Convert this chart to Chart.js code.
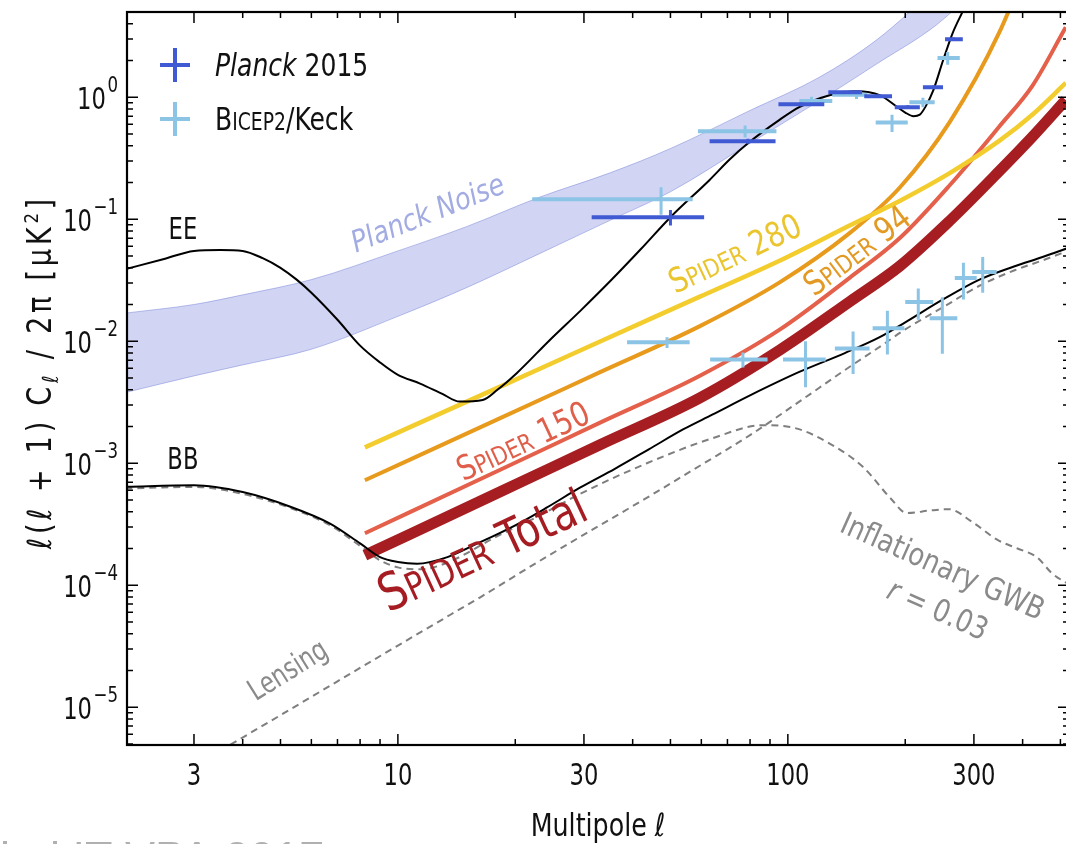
<!DOCTYPE html>
<html>
<head>
<meta charset="utf-8">
<script src="https://cdn.jsdelivr.net/npm/chart.js@4.4.1/dist/chart.umd.min.js"></script>
<style>
    html, body { margin: 0; padding: 0; background: #fff; overflow: hidden; }
    #wrap { width: 1066px; height: 844px; overflow: hidden; }
    canvas { display: block; }
</style>
</head>
<body>
<div id="wrap"><canvas id="cl-chart" width="1070" height="844"></canvas></div>
<script>
const X_MIN = 2.02, X_MAX = 526;
const Y_MIN = 4.9e-6, Y_MAX = 5;

const X_TICKS = [3, 10, 30, 100, 300];
const X_TICK_LABELS = ['3', '10', '30', '100', '300'];
const Y_TICKS = [1, 0.1, 0.01, 1e-3, 1e-4, 1e-5];
const Y_TICK_EXPONENTS = ['0', '\u22121', '\u22122', '\u22123', '\u22124', '\u22125'];

// theory spectra, l(l+1)C_l/2pi in uK^2
const EE_ELL = [2, 2.5, 3, 3.5, 4, 4.5, 5, 5.5, 6, 7, 8, 9, 10, 11.4, 13, 14.4, 16.5, 18, 20.2, 24.5, 29.5, 35, 42, 50, 63, 71, 79, 95, 107, 128, 150, 172, 190, 200, 210, 218, 226, 236, 250, 264, 282, 300];
const EE_VAL = [0.039, 0.047, 0.055, 0.056, 0.055, 0.048, 0.040, 0.032, 0.025, 0.015, 0.0092, 0.0067, 0.0053, 0.0045, 0.0037, 0.0032, 0.0033, 0.0040, 0.0055, 0.0102, 0.018, 0.031, 0.057, 0.104, 0.21, 0.31, 0.42, 0.65, 0.83, 1.04, 1.12, 1.04, 0.84, 0.75, 0.70, 0.72, 0.85, 1.14, 2.0, 3.3, 5.2, 8];

const BB_ELL = [2, 3, 4, 5.3, 6.7, 8, 9, 10, 11.2, 13.4, 16, 20, 24, 29.3, 36, 44, 54, 64, 80, 107, 140, 172, 200, 250, 310, 380, 450, 530];
const BB_VAL = [6.4e-4, 6.6e-4, 5.8e-4, 4.4e-4, 3.2e-4, 2.2e-4, 1.7e-4, 1.55e-4, 1.5e-4, 1.7e-4, 2.2e-4, 3.1e-4, 4.3e-4, 6.3e-4, 9.0e-4, 1.3e-3, 1.9e-3, 2.5e-3, 3.6e-3, 5.6e-3, 8.0e-3, 0.0108, 0.0143, 0.022, 0.032, 0.041, 0.049, 0.059];

const LENS_ELL = [3.5, 5, 7, 10, 13.6, 16.3, 22, 30, 43, 60, 80, 107, 140, 172, 200, 250, 310, 380, 450, 530];
const LENS_VAL = [4.4e-6, 8.6e-6, 1.63e-5, 3.2e-5, 5.7e-5, 8e-5, 1.44e-4, 2.6e-4, 5.1e-4, 9.7e-4, 1.7e-3, 3.2e-3, 5.8e-3, 9.0e-3, 0.0125, 0.019, 0.0285, 0.038, 0.046, 0.056];

const GWB_ELL = [2, 3, 4, 5.3, 6.7, 8, 9, 10, 11.5, 13.5, 17.9, 23, 29.3, 43.5, 64, 86, 105, 128, 156, 183, 202, 232, 259, 297, 345, 388, 435, 476, 530];
const GWB_VAL = [6.2e-4, 6.4e-4, 5.6e-4, 4.3e-4, 3.1e-4, 2.1e-4, 1.6e-4, 1.4e-4, 1.35e-4, 1.55e-4, 2.5e-4, 3.7e-4, 5.6e-4, 1.0e-3, 1.6e-3, 2.05e-3, 1.93e-3, 1.45e-3, 9.3e-4, 5.2e-4, 3.9e-4, 4.1e-4, 4.2e-4, 3.3e-4, 2.35e-4, 2.0e-4, 1.7e-4, 1.25e-4, 1.0e-4];

// Planck noise band
const NOISE_ELL = [2, 3, 4, 6, 10, 15, 23, 35, 50, 80, 120, 170, 240, 320];
const NOISE_HI = [0.017, 0.020, 0.024, 0.032, 0.055, 0.087, 0.151, 0.24, 0.38, 0.78, 1.45, 3.0, 8, 20];
const NOISE_LO = [0.0038, 0.0052, 0.0064, 0.0086, 0.0160, 0.0275, 0.052, 0.098, 0.168, 0.42, 0.93, 1.9, 3.9, 9];

// SPIDER noise curves
const SPIDER_ELL = [8.23, 18.3, 33, 59.5, 95.5, 144, 194, 260, 349, 425, 516];
const SPIDER_280 = [1.35e-3, 4.25e-3, 9.95e-3, 0.0232, 0.0459, 0.0888, 0.142, 0.239, 0.441, 0.726, 1.31];
const SPIDER_94 = [7.26e-4, 2.34e-3, 5.58e-3, 0.0133, 0.0305, 0.0769, 0.183, 0.625, 3.43, 16, 81];
const SPIDER_150 = [2.67e-4, 8.84e-4, 2.15e-3, 5.21e-3, 0.0125, 0.0331, 0.0705, 0.190, 0.579, 1.26, 3.75];
const SPIDER_TOTAL = [1.76e-4, 5.83e-4, 1.42e-3, 3.44e-3, 8.51e-3, 0.0211, 0.0415, 0.097, 0.249, 0.479, 0.95];

// Planck 2015 EE bandpowers
const PLANCK_ELL = [50, 79, 108, 140, 171, 203, 236, 266];
const PLANCK_LO = [31.4, 63, 94.6, 127, 157, 188, 222, 253];
const PLANCK_HI = [61, 93, 124, 155, 185, 218, 250, 281];
const PLANCK_VAL = [0.104, 0.436, 0.876, 1.10, 1.02, 0.83, 1.21, 2.99];
const PLANCK_ERR = [0.015, 0.02, 0.03, 0.03, 0.03, 0.03, 0.04, 0.1];

// BICEP2/Keck EE and BB bandpowers
const BK_EE_ELL = [47.3, 77.7, 115, 150, 185, 222, 257];
const BK_EE_LO = [22.1, 58.8, 107, 130, 168, 205, 242];
const BK_EE_HI = [57, 93.5, 130, 160, 203, 238, 276];
const BK_EE_VAL = [0.146, 0.527, 0.93, 1.05, 0.62, 0.91, 2.1];
const BK_EE_ERR = [0.037, 0.06, 0.08, 0.08, 0.1, 0.08, 0.25];

const BK_BB_ELL = [49, 76.7, 111, 147, 180, 216, 249, 282, 316];
const BK_BB_LO = [38.7, 63.2, 97.2, 132, 165, 200, 231, 268, 297];
const BK_BB_HI = [56, 88.7, 125, 162, 199, 236, 272, 305, 343];
const BK_BB_VAL = [0.0098, 0.0071, 0.0071, 0.0087, 0.0128, 0.021, 0.0154, 0.033, 0.037];
const BK_BB_ERR = [0.001, 0.001, 0.0029, 0.0033, 0.005, 0.006, 0.0075, 0.011, 0.012];

const PLANCK_BLUE = '#405ad4';
const BK_BLUE = '#8cc4e6';
const SANS = "'Liberation Sans Narrow', 'DejaVu Sans Condensed', 'DejaVu Sans', sans-serif";
const NARROW = 0.84;   // the original face is narrower than anything installed

function font(size, style) {
    return (style ? style + ' ' : '') + size + 'px ' + SANS;
}

function points(ell, val) {
    return ell.map((l, i) => ({x: l, y: val[i]}));
}

// horizontal bin bars, broken by null points
function hBars(lo, hi, val) {
    var pts = [];
    for (let i = 0; i < val.length; i++) {
        pts.push({x: lo[i], y: val[i]}, {x: hi[i], y: val[i]}, {x: hi[i], y: null});
    }
    return pts;
}

function vBars(ell, val, err) {
    var pts = [];
    for (let i = 0; i < ell.length; i++) {
        pts.push({x: ell[i], y: val[i] - err[i]}, {x: ell[i], y: val[i] + err[i]}, {x: ell[i], y: null});
    }
    return pts;
}

function curve(ell, val, color, width, order, dash) {
    return {
        data: points(ell, val),
        borderColor: color,
        borderWidth: width,
        borderDash: dash || [],
        cubicInterpolationMode: 'monotone',
        fill: false,
        order: order
    };
}

function bars(data, color, width, order) {
    return {data: data, borderColor: color, borderWidth: width, tension: 0, fill: false, order: order};
}

// rich text: parts drawn side by side on one baseline, optionally rotated
function drawParts(ctx, x, y, angle, parts, color, opts) {
    opts = opts || {};
    ctx.save();
    ctx.translate(x, y);
    ctx.rotate(angle * Math.PI / 180);
    ctx.scale(opts.sx || NARROW, 1);
    ctx.fillStyle = color;
    ctx.textAlign = 'left';
    ctx.textBaseline = 'alphabetic';
    if (opts.spacing) ctx.letterSpacing = opts.spacing;
    var width = 0;
    parts.forEach(p => { ctx.font = font(p.size, p.style); width += ctx.measureText(p.t).width; });
    var cx = opts.align === 'left' ? 0 : opts.align === 'right' ? -width : -width / 2;
    var shift = opts.mid ? 0.36 * parts[0].size : 0;
    parts.forEach(p => {
        ctx.font = font(p.size, p.style);
        ctx.fillText(p.t, cx, (p.dy || 0) + shift);
        cx += ctx.measureText(p.t).width;
    });
    ctx.restore();
}

function spiderParts(name, big, small) {
    return [{t: 'S', size: big}, {t: 'PIDER', size: small}, {t: ' ' + name, size: big}];
}

const frame = {
    id: 'frame',
    afterDatasetsDraw(chart) {
        const ctx = chart.ctx;
        const a = chart.chartArea;
        const xs = chart.scales.x, ys = chart.scales.y;

        ctx.save();
        ctx.strokeStyle = '#000';
        ctx.lineWidth = 1.5;
        ctx.beginPath();
        for (let d = 1; d <= 100; d *= 10) {
            for (let k = 1; k <= 9; k++) {
                var v = k * d;
                if (v < X_MIN || v > X_MAX) continue;
                var len = X_TICKS.indexOf(v) >= 0 ? 11 : 6;
                var px = xs.getPixelForValue(v);
                ctx.moveTo(px, a.bottom); ctx.lineTo(px, a.bottom - len);
                ctx.moveTo(px, a.top); ctx.lineTo(px, a.top + len);
            }
        }
        for (let e = -6; e <= 0; e++) {
            for (let k = 1; k <= 9; k++) {
                var w = k * Math.pow(10, e);
                if (w < Y_MIN || w > Y_MAX) continue;
                var ylen = k === 1 ? 11 : 6;
                var py = ys.getPixelForValue(w);
                ctx.moveTo(a.left, py); ctx.lineTo(a.left + ylen, py);
                ctx.moveTo(a.right, py); ctx.lineTo(a.right - ylen, py);
            }
        }
        ctx.stroke();
        ctx.lineWidth = 2.2;
        ctx.strokeRect(a.left, a.top, a.right - a.left, a.bottom - a.top);
        ctx.restore();

        // tick labels
        X_TICKS.forEach((v, i) => {
            drawParts(ctx, xs.getPixelForValue(v), 785, 0, [{t: X_TICK_LABELS[i], size: 30}], '#111');
        });
        Y_TICKS.forEach((v, i) => {
            var py = ys.getPixelForValue(v);
            drawParts(ctx, a.left - 9, py + 12, 0, [
                {t: '10', size: 30},
                {t: '\u2009', size: 10},
                {t: Y_TICK_EXPONENTS[i], size: 22, dy: -17}
            ], '#111', {align: 'right'});
        });

        // axis titles
        drawParts(ctx, (a.left + a.right) / 2, 836, 0, [{t: 'Multipole \u2113', size: 32}], '#111', {sx: 0.88});
        drawParts(ctx, 51, 372, -90, [
            {t: '\u2113(\u2113 + 1) C', size: 33},
            {t: '\u2113', size: 22, dy: 7},
            {t: ' / 2\u03c0 [\u03bcK', size: 33},
            {t: '2', size: 20, dy: -13},
            {t: ']', size: 33}
        ], '#111', {spacing: '4px', sx: 0.92});

        // annotations anchored in data coordinates
        const labels = [
            {at: [2.81, 0.0844], angle: 0, color: '#111', parts: [{t: 'EE', size: 30}]},
            {at: [2.81, 1.1e-3], angle: 0, color: '#111', parts: [{t: 'BB', size: 30}]},
            {at: [11.9, 0.114], angle: -22, color: '#a3ace2', parts: [{t: 'Planck Noise', size: 30, style: 'italic'}], sx: 0.95},
            {at: [73, 0.053], angle: -25, color: '#ebc52e', parts: spiderParts('280', 34, 25), sx: 0.92},
            {at: [150, 0.056], angle: -37, color: '#e39a25', parts: spiderParts('94', 34, 25), sx: 0.92},
            {at: [20.9, 1.54e-3], angle: -25, color: '#df5f4a', parts: spiderParts('150', 34, 25), sx: 0.92},
            {at: [16.4, 2.0e-4], angle: -25, color: '#a51d22', parts: [{t: 'S', size: 52}, {t: 'PIDER', size: 38}, {t: ' Total', size: 49}], sx: 0.9},
            {at: [5.2, 2.05e-5], angle: -32, color: '#8a8a8a', parts: [{t: 'Lensing', size: 30}]},
            {at: [250, 1.45e-4], angle: 24, color: '#8a8a8a', parts: [{t: 'Inflationary GWB', size: 31}], sx: 0.93},
            {at: [243, 6.4e-5], angle: 24, color: '#8a8a8a', parts: [{t: 'r', size: 31, style: 'italic'}, {t: ' = 0.03', size: 31}], sx: 0.93}
        ];
        labels.forEach(l => {
            drawParts(ctx, xs.getPixelForValue(l.at[0]), ys.getPixelForValue(l.at[1]), l.angle, l.parts, l.color, {mid: true, sx: l.sx});
        });

        // legend
        const items = [
            {color: PLANCK_BLUE, parts: [{t: 'Planck', size: 32, style: 'italic'}, {t: ' 2015', size: 32}]},
            {color: BK_BLUE, parts: [{t: 'B', size: 32}, {t: 'ICEP2', size: 24}, {t: '/Keck', size: 32}]}
        ];
        items.forEach((it, i) => {
            var cx = a.left + 48, cy = a.top + 53 + i * 54;
            ctx.save();
            ctx.strokeStyle = it.color;
            ctx.lineWidth = 4;
            ctx.beginPath();
            ctx.moveTo(cx - 15, cy); ctx.lineTo(cx + 15, cy);
            ctx.moveTo(cx, cy - 17); ctx.lineTo(cx, cy + 17);
            ctx.stroke();
            ctx.restore();
            drawParts(ctx, a.left + 88, cy + 11, 0, it.parts, '#111', {align: 'left', sx: 0.87});
        });

        // caption cut by the bottom edge
        ctx.save();
        ctx.fillStyle = '#b0b0b0';
        ctx.font = "45px 'Liberation Sans', Arial, sans-serif";
        ctx.textAlign = 'left';
        ctx.fillText('ied IT VPA 2017', 0, 873);
        ctx.restore();
    }
};

const datasets = [
    {
        data: points(NOISE_ELL, NOISE_HI), borderColor: 'rgba(120,132,215,0.5)', borderWidth: 1,
        backgroundColor: 'rgba(130,142,222,0.37)', fill: '+1', cubicInterpolationMode: 'monotone', order: 20
    },
    {
        data: points(NOISE_ELL, NOISE_LO), borderColor: 'rgba(120,132,215,0.5)', borderWidth: 1,
        fill: false, cubicInterpolationMode: 'monotone', order: 20
    },
    curve(EE_ELL, EE_VAL, '#000', 2, 4),
    curve(BB_ELL, BB_VAL, '#000', 2, 4),
    curve(LENS_ELL, LENS_VAL, '#7f7f7f', 2, 9, [7, 5]),
    curve(GWB_ELL, GWB_VAL, '#7f7f7f', 2, 9, [7, 5]),
    curve(SPIDER_ELL, SPIDER_280, '#f3cd2e', 4.5, 6),
    curve(SPIDER_ELL, SPIDER_94, '#e89a1c', 4, 6),
    curve(SPIDER_ELL, SPIDER_150, '#e5604a', 4, 6),
    curve(SPIDER_ELL, SPIDER_TOTAL, '#a61e22', 11, 5),
    bars(hBars(BK_EE_LO, BK_EE_HI, BK_EE_VAL), BK_BLUE, 4, 3),
    bars(vBars(BK_EE_ELL, BK_EE_VAL, BK_EE_ERR), BK_BLUE, 3, 3),
    bars(hBars(BK_BB_LO, BK_BB_HI, BK_BB_VAL), BK_BLUE, 4, 3),
    bars(vBars(BK_BB_ELL, BK_BB_VAL, BK_BB_ERR), BK_BLUE, 3, 3),
    bars(hBars(PLANCK_LO, PLANCK_HI, PLANCK_VAL), PLANCK_BLUE, 4, 1),
    bars(vBars(PLANCK_ELL, PLANCK_VAL, PLANCK_ERR), PLANCK_BLUE, 3, 1)
];

var ctx = document.getElementById('cl-chart').getContext('2d');
var chart = new Chart(ctx, {
    type: 'line',
    data: {datasets: datasets},
    options: {
        responsive: false,
        animation: false,
        devicePixelRatio: 1,
        layout: {padding: {left: 127, top: 12, right: 1, bottom: 99}},
        elements: {point: {radius: 0, hoverRadius: 0}},
        scales: {
            x: {type: 'logarithmic', min: X_MIN, max: X_MAX, bounds: 'data', display: false},
            y: {type: 'logarithmic', min: Y_MIN, max: Y_MAX, bounds: 'data', display: false}
        },
        plugins: {legend: {display: false}, tooltip: {enabled: false}}
    },
    plugins: [frame]
});
</script>
</body>
</html>
